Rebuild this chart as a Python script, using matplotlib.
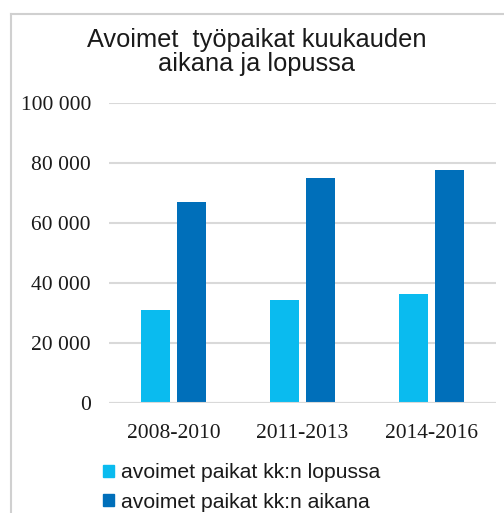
import numpy as np
import matplotlib.pyplot as plt
from matplotlib.lines import Line2D
from matplotlib.patches import Patch

# data
periods = ['2008-2010', '2011-2013', '2014-2016']
lopussa = [31100, 34400, 36400]   # avoimet paikat kk:n lopussa
aikana = [67000, 75100, 77800]    # avoimet paikat kk:n aikana
yticks = [0, 20000, 40000, 60000, 80000, 100000]

c_light = '#0abbef'
c_dark = '#006fba'
grid_c = '#d9d9d9'

fig = plt.figure(figsize=(5.04, 5.13), dpi=100)
# chart frame (left and top edges, the rest is cut off)
fx, fy = 10.5/504, 1 - 13.5/513
fig.add_artist(Line2D([fx, fx], [0.0, fy], transform=fig.transFigure,
                      color='#d0d0d0', lw=1.5))
fig.add_artist(Line2D([fx, 1.0], [fy, fy], transform=fig.transFigure,
                      color='#d0d0d0', lw=1.5))

ax = fig.add_axes([109/504, 109.7/513, 387/504, 300/513])
x = np.arange(len(periods))
w = 0.232
gap = 0.047
ax.bar(x - (w + gap)/2, lopussa, w, color=c_light, zorder=3)
ax.bar(x + (w + gap)/2, aikana, w, color=c_dark, zorder=3)

ax.set_xlim(-0.5, 2.5)
ax.set_ylim(0, 100000)
ax.set_yticks(yticks)
ax.set_yticklabels([f'{v:,}'.replace(',', ' ') for v in yticks])
ax.set_xticks(x)
ax.set_xticklabels(periods)
ax.yaxis.grid(True, color=grid_c, lw=1.5, zorder=0)
for s in ax.spines.values():
    s.set_visible(False)
ax.axhline(0, color=grid_c, lw=1.5, zorder=4)
ax.tick_params(length=0, labelsize=15.5, colors='#1a1a1a')
ax.tick_params(axis='y', pad=13)
ax.tick_params(axis='x', pad=15)
for lab in ax.get_xticklabels() + ax.get_yticklabels():
    lab.set_family('Liberation Serif')

fig.text(257/504, 1 - 52/513, 'Avoimet  työpaikat kuukauden\naikana ja lopussa',
         ha='center', va='center', family='Liberation Sans', fontsize=18.3,
         linespacing=1.05, color='#1a1a1a')

handles = [Patch(color=c_light), Patch(color=c_dark)]
fig.legend(handles, ['avoimet paikat kk:n lopussa', 'avoimet paikat kk:n aikana'],
           loc='upper left', bbox_to_anchor=(99/504, 1 - 459/513),
           frameon=False, handlelength=0.5, handleheight=0.5, handletextpad=0.35,
           labelspacing=0.5, borderaxespad=0, borderpad=0.2,
           prop={'family': 'Liberation Sans', 'size': 15.2},
           labelcolor='#1a1a1a')

fig.savefig('out.png', dpi=100)
